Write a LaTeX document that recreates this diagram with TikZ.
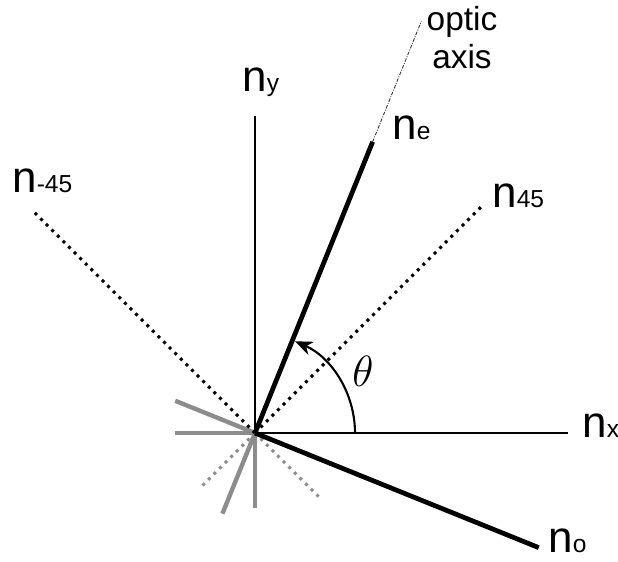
\documentclass[tikz,border=0pt]{standalone}
\usepackage{fontspec}
\setmainfont{Liberation Sans}
\usetikzlibrary{arrows.meta}
\newcommand{\nlab}[1]{{\fontsize{25}{25}\selectfont n}{\fontsize{14}{14}\selectfont #1}}

\begin{document}
\begin{tikzpicture}[x=2cm,y=2cm,
  axisline/.style={line width=1.4pt},
  rayline/.style={line width=2.7pt},
  dotline/.style={line width=1.7pt,dash pattern=on 1.7pt off 2.8pt},
  backline/.style={black!45},
  lab/.style={inner sep=0pt,anchor=base west}]
\useasboundingbox (-2.55,-1.29) rectangle (3.63,4.33);
\coordinate (O) at (0,0);
% back ends
\coordinate (bx) at (180:0.8);
\coordinate (by) at (270:0.75);
\coordinate (be) at (248:0.87);
\coordinate (bo) at (158:0.86);
\coordinate (bp) at (225:0.78);
\coordinate (bm) at (315:0.94);
\draw[backline,line width=1.9pt] (O)--(bx);
\draw[backline,line width=1.9pt] (O)--(by);
\draw[backline,line width=2.5pt] (O)--(be);
\draw[backline,line width=2.5pt] (O)--(bo);
\draw[backline,dotline] (O)--(bp);
\draw[backline,dotline] (O)--(bm);
% axes
\coordinate (x) at (3.13,0);
\coordinate (y) at (0,3.17);
\coordinate (p45) at (45:3.24);
\coordinate (m45) at (135:3.15);
\coordinate (e) at (68:3.14);
\coordinate (oa) at (68:4.44);
\coordinate (o) at (-22:3.06);
\draw[axisline] (O)--(x);
\draw[axisline] (O)--(y);
\draw[dotline] (O)--(p45);
\draw[dotline] (O)--(m45);
\draw[black!80,line width=0.5pt,dash pattern=on 2pt off 0.8pt on 0.5pt off 0.8pt] (e)--(oa);
\draw[rayline] (O)--(e);
\draw[rayline] (O)--(o);
% angle
\draw[line width=1.2pt,-{Stealth[length=10pt,width=8pt,inset=3pt]}] (1,0) arc (0:66.5:1);
\node (th) at (1.08,0.62) {\fontsize{28}{28}\selectfont$\theta$};
% labels
\node[lab] (ly) at (-0.13,3.41) {\nlab{y}};
\node[lab] (le) at (1.37,2.93) {\nlab{e}};
\node[lab] (lp) at (2.37,2.25) {\nlab{45}};
\node[lab] (lm) at (-2.43,2.40) {\nlab{-45}};
\node[lab] (lx) at (3.27,-0.05) {\nlab{x}};
\node[lab] (lo) at (2.93,-1.20) {\nlab{o}};
\node[align=center,inner sep=0pt,font=\fontsize{19}{21.6}\selectfont] (lax) at (2.07,3.95) {optic\\axis};
\end{tikzpicture}
\end{document}
